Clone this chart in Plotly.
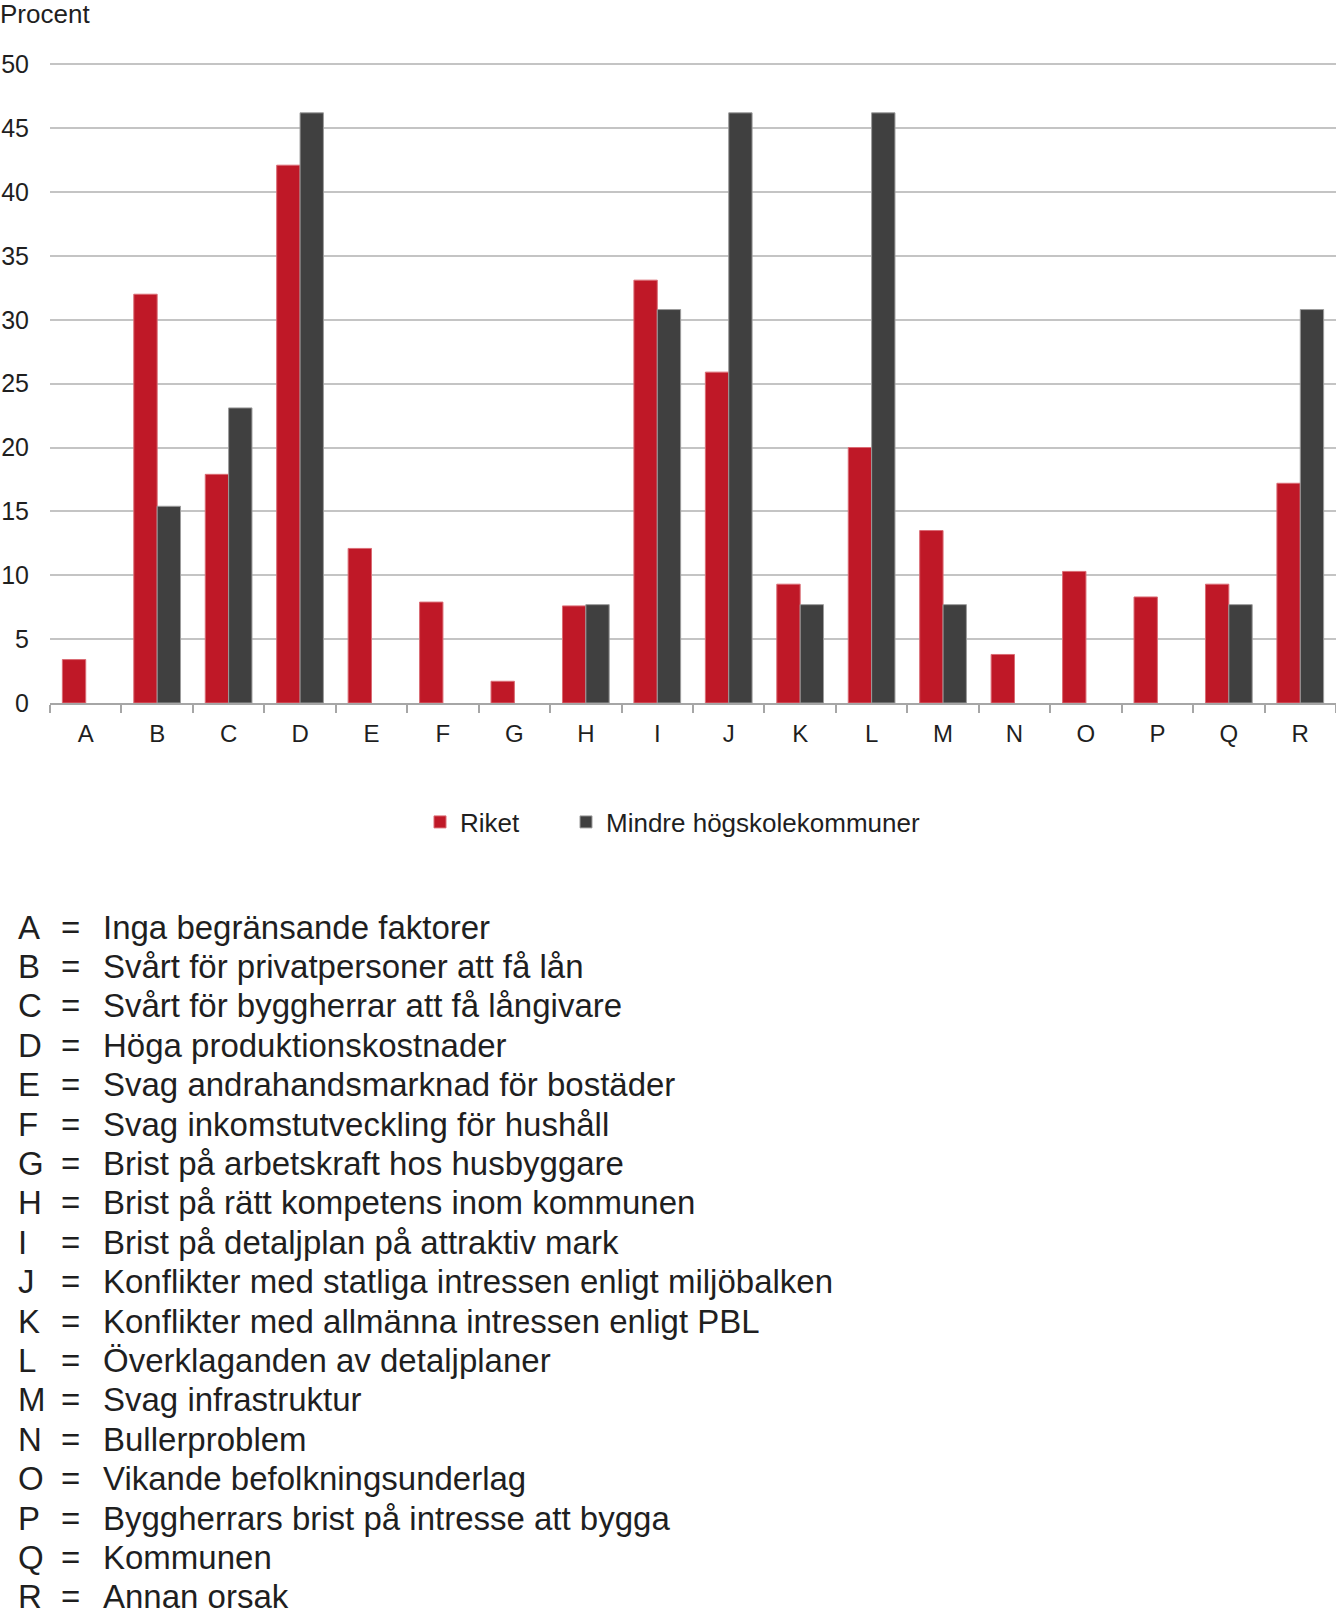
import plotly.graph_objects as go

# Data (percent); None = no bar
categories = ["A", "B", "C", "D", "E", "F", "G", "H", "I",
              "J", "K", "L", "M", "N", "O", "P", "Q", "R"]
riket = [3.4, 32.0, 17.9, 42.1, 12.1, 7.9, 1.7, 7.6, 33.1,
         25.9, 9.3, 20.0, 13.5, 3.8, 10.3, 8.3, 9.3, 17.2]
mindre = [None, 15.4, 23.1, 46.2, None, None, None, 7.7, 30.8,
          46.2, 7.7, 46.2, 7.7, None, None, None, 7.7, 30.8]
descriptions = [
    "Inga begränsande faktorer",
    "Svårt för privatpersoner att få lån",
    "Svårt för byggherrar att få långivare",
    "Höga produktionskostnader",
    "Svag andrahandsmarknad för bostäder",
    "Svag inkomstutveckling för hushåll",
    "Brist på arbetskraft hos husbyggare",
    "Brist på rätt kompetens inom kommunen",
    "Brist på detaljplan på attraktiv mark",
    "Konflikter med statliga intressen enligt miljöbalken",
    "Konflikter med allmänna intressen enligt PBL",
    "Överklaganden av detaljplaner",
    "Svag infrastruktur",
    "Bullerproblem",
    "Vikande befolkningsunderlag",
    "Byggherrars brist på intresse att bygga",
    "Kommunen",
    "Annan orsak",
]

RED = "#BF1827"
DARK = "#404040"
FONT = "Liberation Sans, Arial, sans-serif"
TXT = "#1F1F1F"

W, H = 1336, 1609
L, R, T = 50, 0, 63
PLOT_BOTTOM = 703
PLOT_H = PLOT_BOTTOM - T
PLOT_W = W - L - R


def px_x(p):
    return (p - L) / PLOT_W


def px_y(p):
    return (PLOT_BOTTOM - p) / PLOT_H


fig = go.Figure()
fig.add_trace(go.Bar(
    x=categories, y=riket, name="Riket", legend="legend",
    marker=dict(color=RED, line=dict(color="#DA6B74", width=1)),
))
fig.add_trace(go.Bar(
    x=categories, y=mindre, name="Mindre högskolekommuner", legend="legend2",
    marker=dict(color=DARK, line=dict(color="#9C9C9C", width=1)),
))

annotations = [dict(
    text="Procent", xref="paper", yref="paper",
    x=px_x(-2), y=px_y(-3), xanchor="left", yanchor="top",
    showarrow=False, font=dict(size=26, color=TXT, family=FONT),
)]

# key list below the chart
for i, (cat, desc) in enumerate(zip(categories, descriptions)):
    yc = px_y(927 + i * 39.4)
    for xp, txt in [(16, cat), (59, "="), (101, desc)]:
        annotations.append(dict(
            text=txt, xref="paper", yref="paper",
            x=px_x(xp), y=yc, xanchor="left", yanchor="middle",
            showarrow=False, font=dict(size=33, color=TXT, family=FONT),
        ))

legend_style = dict(
    orientation="h", xanchor="left", yanchor="middle", y=px_y(822),
    font=dict(size=26, color=TXT, family=FONT), itemwidth=30,
    bgcolor="rgba(0,0,0,0)",
)

fig.update_layout(
    width=W, height=H,
    margin=dict(l=L, r=R, t=T, b=H - PLOT_BOTTOM, autoexpand=False),
    paper_bgcolor="white", plot_bgcolor="white",
    barmode="group", bargap=0.346, bargroupgap=0,
    font=dict(family=FONT, color=TXT),
    showlegend=True,
    legend=dict(x=px_x(445 - 25), **legend_style),
    legend2=dict(x=px_x(591 - 25), **legend_style),
    annotations=annotations,
    xaxis=dict(
        showline=True, linecolor="#A6A6A6", linewidth=1.5,
        ticks="outside", tickson="boundaries", ticklen=8,
        tickcolor="#A6A6A6", tickwidth=1.5,
        tickfont=dict(size=24, color=TXT, family=FONT),
        ticklabelstandoff=8, showgrid=False, automargin=False,
    ),
    yaxis=dict(
        range=[0, 50.1], tickvals=[0, 5, 10, 15, 20, 25, 30, 35, 40, 45, 50],
        showline=False,
        showgrid=True, gridcolor="#C4C4C4", gridwidth=1.5,
        zeroline=False, ticks="",
        tickfont=dict(size=25, color=TXT, family=FONT),
        ticklabelstandoff=20, automargin=False,
    ),
)

fig.write_html(
    "out.html",
    config={"displayModeBar": False},
    post_script="document.body.style.margin='0';",
)
